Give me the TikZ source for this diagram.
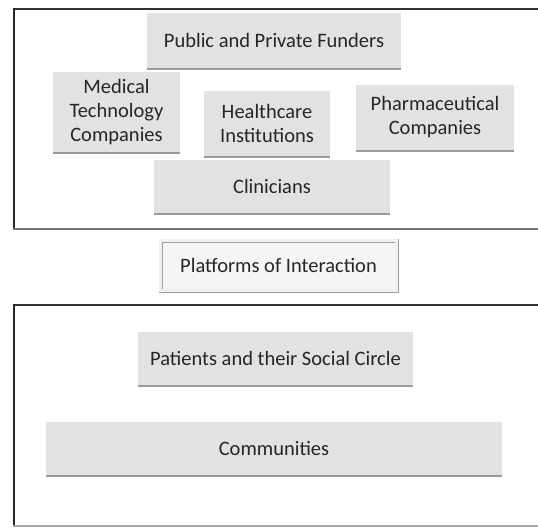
\documentclass[tikz,border=0pt]{standalone}
\usepackage{fontspec}
\setmainfont{Carlito}
\usetikzlibrary{shadows}
\definecolor{boxgray}{HTML}{E1E2E4}
\definecolor{shadegray}{HTML}{9A9A9A}

\begin{document}
\begin{tikzpicture}[x=1pt, y=-1pt,
   actor/.style={rectangle, fill=boxgray, align=center, inner sep=0pt,
      text=black!85, font=\fontsize{20.5}{24}\selectfont,
      copy shadow={shadow xshift=0pt, shadow yshift=-2.2pt, fill=shadegray, draw=none}},
   hub/.style={rectangle, draw=gray!75, line width=0.8pt, double=gray!12,
      double distance=2.4pt, fill=gray!8, inner sep=0pt,
      text=black!85, font=\fontsize{20.5}{24}\selectfont},
   frame/.style={line width=2.4pt, draw=black!80},
   rim/.style={line width=2.6pt, draw=black!55}]
\useasboundingbox (0,0) rectangle (538,528);

% upper group
\draw[frame] (13,9) -- (545,9);
\draw[line width=1.6pt, black!85] (14,8) -- (14,229);
\draw[rim] (13,229) -- (545,229);

\node[actor, minimum width=254, minimum height=55] (funders) at (274,40.5) {Public and Private Funders};

\node[actor, minimum width=127, minimum height=80] (medtech) at (116.5,112) {Medical\\Technology\\Companies};

\node[actor, minimum width=126, minimum height=65] (health) at (267,123.5) {Healthcare\\Institutions};

\node[actor, minimum width=158, minimum height=65] (pharma) at (435,117.5) {Pharmaceutical\\Companies};

\node[actor, minimum width=236, minimum height=53] (clinic) at (272,186.5) {Clinicians};

% the platform in between
\node[hub, minimum width=236, minimum height=50] (platform) at (278.5,265.5) {Platforms of Interaction};

% lower group
\draw[frame] (13,305) -- (545,305);
\draw[line width=1.2pt, black!85] (14,304) -- (14,526);
\draw[line width=1.2pt, black!35] (13,526) -- (545,526);

\node[actor, minimum width=275, minimum height=53] (patients) at (275.5,358) {Patients and their Social Circle};

\node[actor, minimum width=456, minimum height=53] (commun) at (274,448) {Communities};

\end{tikzpicture}
\end{document}
